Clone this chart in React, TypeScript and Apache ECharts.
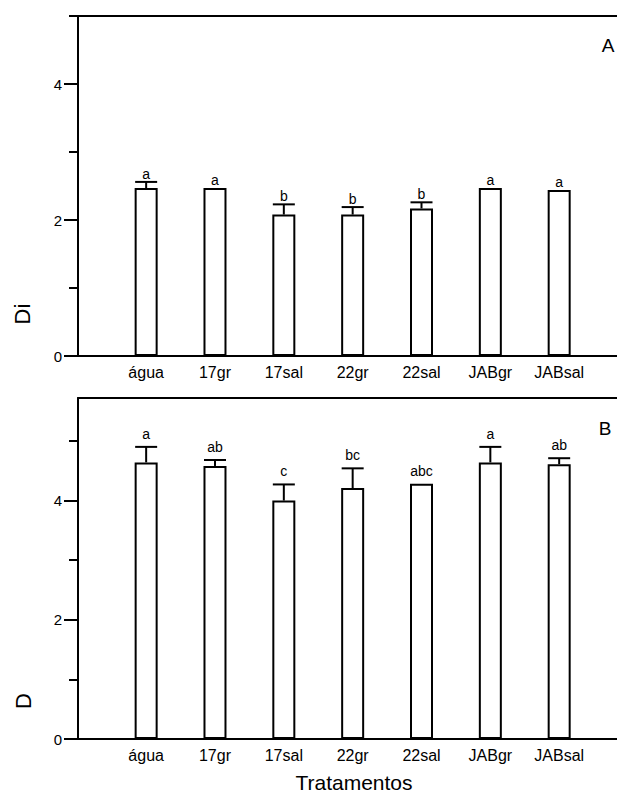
import React, { useEffect, useRef } from 'react';
import * as echarts from 'echarts';

const categories = ['água', '17gr', '17sal', '22gr', '22sal', 'JABgr', 'JABsal'];
const diValues = [2.47, 2.47, 2.08, 2.08, 2.17, 2.47, 2.44];
const diErrors = [0.09, 0, 0.15, 0.11, 0.09, 0, 0];
const diLetters = ['a', 'a', 'b', 'b', 'b', 'a', 'a'];
const dValues = [4.64, 4.58, 4.0, 4.21, 4.28, 4.64, 4.61];
const dErrors = [0.26, 0.1, 0.27, 0.33, 0, 0.26, 0.1];
const dLetters = ['a', 'ab', 'c', 'bc', 'abc', 'a', 'ab'];
const majorTicks = [0, 2, 4];
const minorTicks = [1, 3, 5];
const diMax = 5;
const dMax = 5.72;
const catIndex = [0, 1, 2, 3, 4, 5, 6];

const FONT = '"Liberation Sans", Arial, sans-serif';
const BLACK = '#000';

function xAxes(gridIndex: number) {
  const base = {
    gridIndex,
    type: 'value' as const,
    min: -0.99,
    max: 6.84,
    splitLine: { show: false },
    axisTick: { show: false },
    axisLine: { show: true, onZero: false, lineStyle: { color: BLACK, width: 2 } },
  };
  return [
    {
      ...base,
      position: 'bottom',
      axisLabel: {
        show: true,
        customValues: catIndex,
        formatter: (v: number) => categories[Math.round(v)] ?? '',
        color: BLACK,
        fontSize: 16,
        fontFamily: FONT,
        margin: 8,
      },
    },
    { ...base, position: 'top', axisLabel: { show: false } },
  ];
}

function yAxes(gridIndex: number, max: number) {
  const base = {
    gridIndex,
    type: 'value' as const,
    min: 0,
    max,
    position: 'left',
    splitLine: { show: false },
  };
  return [
    {
      ...base,
      axisLine: { show: true, onZero: false, lineStyle: { color: BLACK, width: 2 } },
      axisTick: { show: true, customValues: majorTicks, length: 14, lineStyle: { color: BLACK, width: 2 } },
      axisLabel: {
        show: true,
        customValues: majorTicks,
        color: BLACK,
        fontSize: 15,
        fontFamily: FONT,
        margin: 16,
      },
    },
    {
      ...base,
      axisLine: { show: false, onZero: false },
      axisTick: { show: true, customValues: minorTicks, length: 9, lineStyle: { color: BLACK, width: 2 } },
      axisLabel: { show: false },
    },
  ];
}

function panelSeries(
  values: number[],
  errors: number[],
  letters: string[],
  xAxisIndex: number,
  yAxisIndex: number,
  letterGap: number
) {
  return [
    {
      type: 'bar',
      xAxisIndex,
      yAxisIndex,
      barWidth: 23,
      z: 2,
      itemStyle: { color: '#fff', borderColor: BLACK, borderWidth: 2 },
      data: values.map((v, i) => [i, v]),
    },
    {
      type: 'custom',
      xAxisIndex,
      yAxisIndex,
      z: 3,
      encode: { x: 0, y: 1 },
      data: values.map((v, i) => [i, v, errors[i]]),
      renderItem: (params: any, api: any) => {
        const i = api.value(0);
        const v = api.value(1);
        const e = api.value(2);
        const base = api.coord([i, v]);
        const top = api.coord([i, v + e]);
        const children: any[] = [];
        if (e > 0) {
          children.push({
            type: 'line',
            shape: { x1: base[0], y1: base[1], x2: top[0], y2: top[1] },
            style: { stroke: BLACK, lineWidth: 2 },
          });
          children.push({
            type: 'line',
            shape: { x1: top[0] - 11, y1: top[1], x2: top[0] + 11, y2: top[1] },
            style: { stroke: BLACK, lineWidth: 2 },
          });
        }
        children.push({
          type: 'text',
          x: top[0],
          y: top[1] - letterGap,
          style: {
            text: letters[params.dataIndex],
            fill: BLACK,
            fontSize: 14,
            fontFamily: FONT,
            align: 'center',
            textAlign: 'center',
            verticalAlign: 'bottom',
            textVerticalAlign: 'bottom',
          },
        });
        return { type: 'group', children };
      },
    },
  ];
}

function textEl(text: string, x: number, y: number, size: number, rotation = 0) {
  return {
    type: 'text',
    x,
    y,
    rotation,
    style: {
      text,
      fill: BLACK,
      fontSize: size,
      fontFamily: FONT,
      align: 'center',
      textAlign: 'center',
      verticalAlign: 'middle',
      textVerticalAlign: 'middle',
    },
  };
}

export default function App() {
  const ref = useRef<HTMLDivElement>(null);
  useEffect(() => {
    document.body.style.margin = '0';
    if (!ref.current) return;
    const chart = echarts.init(ref.current, undefined, { renderer: 'svg' });
    chart.setOption({
      animation: false,
      backgroundColor: '#fff',
      textStyle: { fontFamily: FONT },
      grid: [
        { left: 78, right: 0, top: 16, height: 340, containLabel: false },
        { left: 78, right: 0, top: 398, height: 341, containLabel: false },
      ],
      xAxis: [...xAxes(0), ...xAxes(1)],
      yAxis: [...yAxes(0, diMax), ...yAxes(1, dMax)],
      series: [
        ...panelSeries(diValues, diErrors, diLetters, 0, 0, 1),
        ...panelSeries(dValues, dErrors, dLetters, 2, 2, 6),
      ],
      graphic: [
        textEl('Di', 22, 314, 22, Math.PI / 2),
        textEl('D', 23, 701, 22, Math.PI / 2),
        textEl('A', 608, 45, 19),
        textEl('B', 605, 428, 19),
        textEl('Tratamentos', 354, 782, 21),
      ],
    });
    return () => chart.dispose();
  }, []);
  return <div ref={ref} style={{ width: 617, height: 796 }} />;
}
